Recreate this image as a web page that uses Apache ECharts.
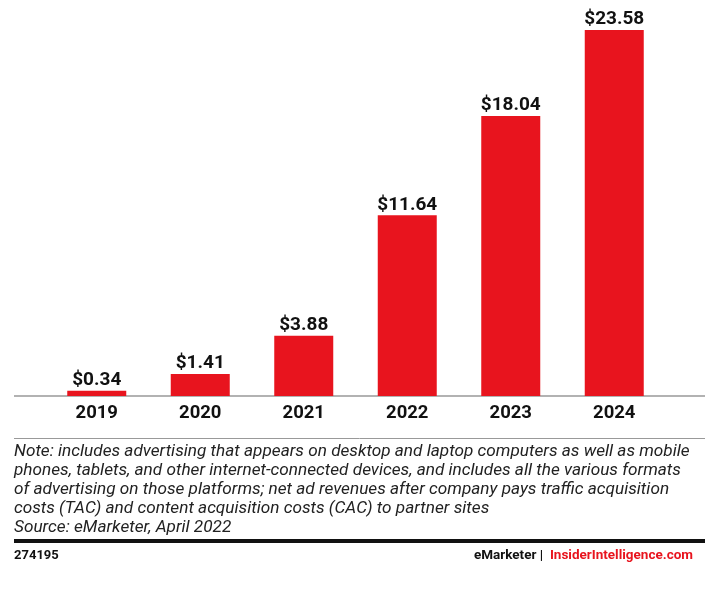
<!DOCTYPE html>
<html>
<head>
<meta charset="utf-8">
<script src="https://cdn.jsdelivr.net/npm/echarts@6/dist/echarts.min.js"></script>
<style>
html,body{margin:0;padding:0;background:#fff;}
#chart{width:707px;height:592px;}
</style>
</head>
<body>
<div id="chart"></div>
<script>
const years = ['2019', '2020', '2021', '2022', '2023', '2024'];
const revenues = [0.34, 1.41, 3.88, 11.64, 18.04, 23.58];
const noteLines = [
  'Note: includes advertising that appears on desktop and laptop computers as well as mobile',
  'phones, tablets, and other internet-connected devices, and includes all the various formats',
  'of advertising on those platforms; net ad revenues after company pays traffic acquisition',
  'costs (TAC) and content acquisition costs (CAC) to partner sites',
  'Source: eMarketer, April 2022'
];
const chartId = '274195';

const RED = '#e8141e';
const chart = echarts.init(document.getElementById('chart'), null, {renderer: 'canvas'});
chart.setOption({
  animation: false,
  backgroundColor: '#fff',
  grid: {left: 45, right: 41, top: 0, bottom: 196},
  xAxis: {
    type: 'category',
    data: years,
    axisLine: {show: false},
    axisTick: {show: false},
    axisLabel: {color: '#111', fontFamily: 'Roboto', fontWeight: 'bold', fontSize: 18.5, margin: 8}
  },
  yAxis: {
    type: 'value', min: 0, max: 25.51, show: false, splitLine: {show: false}
  },
  series: [{
    type: 'bar',
    data: revenues,
    barWidth: 59,
    itemStyle: {color: RED},
    label: {
      show: true, position: 'top', distance: 1,
      color: '#111', fontFamily: 'Roboto', fontWeight: 'bold', fontSize: 19,
      formatter: p => '$' + p.value.toFixed(2)
    }
  }],
  graphic: [
    {type: 'line', shape: {x1: 14, y1: 396, x2: 705, y2: 396}, style: {stroke: '#666', lineWidth: 1.2}},
    {type: 'line', shape: {x1: 14, y1: 438.5, x2: 705, y2: 438.5}, style: {stroke: '#999', lineWidth: 1}},
    {type: 'text', left: 14, top: 442, style: {
      text: noteLines.join('\n'), font: 'italic 17.2px Roboto', fill: '#222', lineHeight: 19
    }},
    {type: 'rect', shape: {x: 14, y: 539, width: 691, height: 4}, style: {fill: '#111'}},
    {type: 'text', left: 14, top: 549, style: {text: chartId, font: 'bold 13px Roboto', fill: '#111'}},
    {type: 'text', right: 14, top: 549, style: {
      rich: {
        a: {font: 'bold 13.5px Roboto', fill: '#111'},
        b: {font: 'bold 13.5px Roboto', fill: RED}
      },
      text: '{a|eMarketer |  }{b|InsiderIntelligence.com}'
    }}
  ]
});
</script>
</body>
</html>
